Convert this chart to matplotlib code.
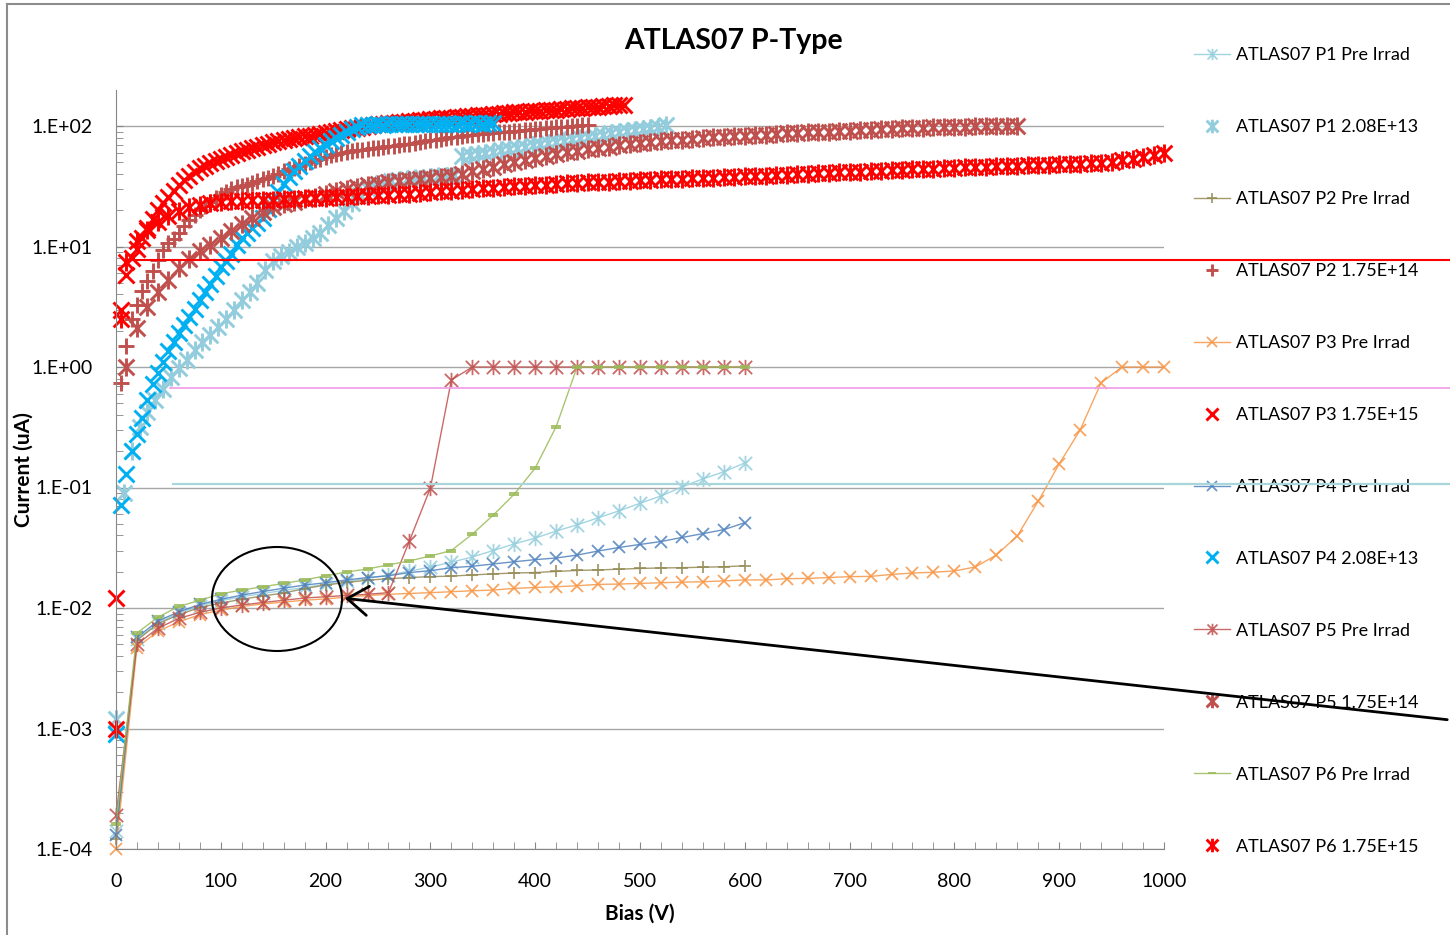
import numpy as np
import matplotlib
matplotlib.use("Agg")
import matplotlib.pyplot as plt
from matplotlib.path import Path
from matplotlib.lines import Line2D
from matplotlib.patches import Ellipse, FancyArrowPatch
from matplotlib.ticker import FixedLocator, MultipleLocator, LogLocator, FuncFormatter, NullFormatter

plt.rcParams["font.family"] = ["Lato", "DejaVu Sans"]

# ---- data (bias in V, current in uA) ----
# pre-irradiation sweeps, 20 V steps
bias_pre600 = np.arange(0, 601, 20)
bias_pre1000 = np.arange(0, 1001, 20)

p1_pre = [1.4e-4, 0.0055, 0.0075, 0.0091, 0.0104, 0.0115, 0.0124, 0.0132, 0.0140, 0.0148,
          0.0157, 0.0166, 0.0176, 0.0188, 0.0202, 0.0219, 0.024, 0.0265, 0.030, 0.034,
          0.038, 0.0435, 0.049, 0.056, 0.064, 0.074, 0.085, 0.101, 0.118, 0.135, 0.16]
p2_pre = [1.2e-4, 0.0054, 0.0074, 0.0088, 0.0101, 0.0110, 0.0118, 0.0126, 0.0133, 0.0145,
          0.0155, 0.0163, 0.0170, 0.0175, 0.0179, 0.0182, 0.0184, 0.0188, 0.0192, 0.0195,
          0.0197, 0.0201, 0.0205, 0.0207, 0.0210, 0.0213, 0.0215, 0.0216, 0.0218, 0.0220, 0.0224]
p3_pre = [1.0e-4, 0.0047, 0.0064, 0.0077, 0.0088, 0.0096, 0.0103, 0.0108, 0.0112, 0.0116,
          0.0119, 0.0123, 0.0127, 0.0130, 0.0132, 0.0134, 0.01365, 0.0139, 0.0141, 0.01455,
          0.0148, 0.0150, 0.0153, 0.0157, 0.0158, 0.0160, 0.0162, 0.0164, 0.0165, 0.0168,
          0.0171, 0.0171, 0.0175, 0.0176, 0.0179, 0.0182, 0.0183, 0.0190, 0.0195, 0.0198,
          0.0203, 0.0219, 0.0275, 0.0396, 0.077, 0.157, 0.30, 0.74, 1.0, 1.0, 1.0]
p4_pre = [1.3e-4, 0.0057, 0.0078, 0.0093, 0.0107, 0.0118, 0.0128, 0.0137, 0.0146, 0.0155,
          0.0162, 0.0171, 0.0179, 0.0185, 0.0197, 0.0204, 0.0216, 0.0222, 0.0232, 0.0242,
          0.0252, 0.0260, 0.0275, 0.0297, 0.0318, 0.0337, 0.0356, 0.0385, 0.0414, 0.0447, 0.051]
p5_pre = [1.9e-4, 0.0050, 0.0068, 0.0082, 0.0092, 0.0100, 0.0106, 0.0111, 0.0116, 0.0121,
          0.0124, 0.0127, 0.0130, 0.0134, 0.036, 0.099, 0.78, 1.0, 1.0, 1.0,
          1.0, 1.0, 1.0, 1.0, 1.0, 1.0, 1.0, 1.0, 1.0, 1.0, 1.0]
p6_pre = [1.6e-4, 0.0062, 0.0084, 0.0103, 0.0116, 0.0131, 0.0141, 0.0150, 0.0160, 0.0171,
          0.0185, 0.0199, 0.0211, 0.0228, 0.0246, 0.0270, 0.030, 0.041, 0.059, 0.088,
          0.145, 0.32, 1.0, 1.0, 1.0, 1.0, 1.0, 1.0, 1.0, 1.0, 1.0]

# irradiated sweeps
bias_p1_irr = np.arange(0, 526, 7.5)
p1_irr = [0.0012, 0.09, 0.2, 0.32, 0.42, 0.53, 0.66, 0.82, 0.98, 1.15,
          1.38, 1.6, 1.85, 2.15, 2.5, 3.0, 3.6, 4.2, 5.0, 6.4,
          7.6, 8.3, 9.0, 9.9, 10.7, 11.8, 12.9, 15, 17.4, 19.8,
          23, 27, 30, 32, 33.5, 35, 35.8, 36.3, 36.8, 37.3,
          37.8, 38.2, 38.6, 39,
          56, 57.3, 58.6, 60, 61.4, 62.8, 64.3, 65.8, 67.3, 68.9,
          70.5, 72.2, 73.9, 75.6, 77.4, 79.2, 81, 83, 85, 87,
          89, 91, 93, 95, 97, 99, 101]

bias_p2_irr = np.arange(5, 451, 5)
p2_irr = [0.73, 1.5, 2.5, 3.3, 4.3, 5.2, 6.3, 7.8, 9.3, 10.6,
          11.6, 13, 14.8, 16.6, 18.4, 20, 21.8, 23.5, 25.4, 27,
          28.5, 30, 31, 31.8, 32.6, 33.6, 34.8, 36, 37.3, 38.8,
          40.3, 42, 43.6, 45.2, 46.8, 48.4, 50, 51.8, 53.5, 55.3,
          57, 58.6, 60, 61.2, 62.2, 63, 63.8, 64.5, 65.2, 66,
          66.8, 67.6, 68.5, 69.5, 70.5, 71.5, 72.6, 73.7, 74.8, 76,
          77.2, 78.4, 79.6, 80.7, 81.8, 82.8, 83.6, 84.4, 85.2, 86,
          86.8, 87.6, 88.4, 89.2, 90, 90.8, 91.6, 92.4, 93.2, 94,
          94.8, 95.6, 96.4, 97.2, 98, 98.8, 99.6, 100.4, 101.2, 102]

bias_p3_irr = np.arange(0, 486, 5)
p3_irr = [0.0122,
          3.0, 5.8, 8.0, 9.5, 11.8, 14.2, 17, 20, 22.8, 25.8,
          29, 32.5, 35.5, 38.5, 41.5, 44.5, 46.8, 49.2, 51.2, 53.3,
          55.4, 57.6, 59.8, 61.8, 63.6, 65.5, 67.5, 69.2, 71, 73,
          74.6, 76.2, 77.8, 79.2, 80.6, 82, 83.3, 84.6, 86, 87.6,
          89.2, 90.8, 92.4, 94, 95.4, 96.8, 98.3, 100, 101.7, 103,
          104.2, 105.4, 106.5, 107.5, 108.5, 109.5, 110.5, 111.5, 112.5, 113.5,
          114.5, 115.5, 116.5, 117.5, 118.5, 119.5, 120.5, 121.5, 122.5, 123.5,
          124.5, 125.5, 126.5, 127.5, 128.5, 129.5, 130.5, 131.5, 132.4, 133.3,
          134.2, 135.1, 136, 137, 138, 139, 140, 141, 142, 143,
          144, 145, 146, 147, 148, 149, 150]

bias_p4_irr = np.arange(0, 361, 5)
p4_irr = [0.0009, 0.072, 0.13, 0.2, 0.28, 0.38, 0.53, 0.72, 0.9, 1.1,
          1.35, 1.6, 1.9, 2.25, 2.6, 3.05, 3.6, 4.2, 4.9, 5.7,
          6.7, 7.6, 8.7, 10.2, 11.7, 13, 14.3, 15.6, 17.3, 20.5,
          24, 28.5, 33, 37.5, 42, 47, 51.5, 56, 61, 65.5,
          70, 75, 80, 85, 89.5, 94, 98, 101,
          102, 102.5, 103, 102.5, 103, 103.5, 103, 103.5, 104, 103.5,
          104, 104, 103.5, 104, 104, 104.5, 104, 104.5, 105, 104.5,
          105, 105, 104.5, 105, 105]

bias_p5_irr = np.arange(10, 861, 10)
p5_irr = [1.0, 2.1, 3.15, 4.2, 5.3, 6.6, 7.9, 9.2, 10.3, 11.7,
          13.5, 15.5, 17.4, 19.5, 21.2, 22.6, 23.6, 24.7, 25.7, 27.3,
          28.8, 30.2, 31.3, 32.2, 33, 34, 34.8, 35.6, 36.4, 37.2,
          38, 38.8, 40, 42, 44, 46, 48, 50.5, 52.5, 54.5,
          56.5, 58.5, 60.5, 62.5, 64.3, 66, 67.5, 69, 70.5, 72,
          73.3, 74.6, 75.8, 77, 78.2, 79.3, 80.3, 81.3, 82.3, 83.2,
          84.1, 85, 85.9, 86.8, 87.6, 88.4, 89.2, 90, 90.8, 91.6,
          92.4, 93.2, 94, 94.8, 95.5, 96.2, 96.9, 97.5, 98, 98.5,
          99, 99.4, 99.7, 100, 100.2, 100.5]

bias_p6_irr = np.concatenate([[0, 5], np.arange(10, 1001, 10)])
p6_irr = [0.001, 2.5,
          7.5, 11.2, 13.8, 16, 18, 19.6, 21.2, 22.3, 23, 23.4,
          23.7, 23.9, 24.1, 24.3, 24.5, 24.7, 24.9, 25.1, 25.3, 25.5,
          25.7, 25.9, 26.1, 26.3, 26.5, 26.8, 27.1, 27.5, 27.9, 28.3,
          28.7, 29.1, 29.5, 29.9, 30.3, 30.7, 31.1, 31.5, 31.9, 32.3,
          32.6, 33, 33.4, 33.7, 34, 34.3, 34.6, 34.9, 35.2, 35.5,
          35.8, 36.1, 36.3, 36.6, 36.9, 37.1, 37.3, 37.6, 37.9, 38.2,
          38.5, 38.8, 39.1, 39.4, 39.8, 40.1, 40.5, 40.8, 41.2, 41.5,
          41.9, 42.2, 42.6, 42.9, 43.3, 43.6, 44, 44.3, 44.6, 45,
          45.3, 45.6, 45.9, 46.2, 46.5, 46.8, 47.1, 47.4, 47.7, 48,
          48.4, 48.8, 49.2, 49.6, 50.5, 51.8, 53.2, 55, 57.5, 60]

# ---- markers ----
# Excel style asterisk: an X with a vertical bar through it
star = Path([(-1, -1), (1, 1), (-1, 1), (1, -1), (0, -1.15), (0, 1.15)],
            [Path.MOVETO, Path.LINETO] * 3)
dash = Path([(-1, -0.4), (1, -0.4), (1, 0.4), (-1, 0.4), (-1, -0.4)],
            [Path.MOVETO, Path.LINETO, Path.LINETO, Path.LINETO, Path.CLOSEPOLY])

LBLUE = "#93CDDD"
OLIVE = "#948A54"
BROWN = "#C0504D"
ORANGE = "#F79646"
RED = "#FF0000"
BLUE = "#4F81BD"
CYAN = "#00B0F0"
GREEN = "#9BBB59"

W, H = 1450, 935
fig = plt.figure(figsize=(W / 100, H / 100), dpi=100)
ax = fig.add_axes([116 / W, 1 - 849 / H, (1164 - 116) / W, (849 - 90) / H])

pre = dict(lw=1.0, alpha=0.85, ms=9, mew=1.3, mfc="none", clip_on=False)
irr = dict(ls="none", ms=11, mew=2.1, mfc="none", clip_on=False)
pre_st = dict(pre, ms=11)
irr_st = dict(irr, ms=13)

handles = []
handles += ax.plot(bias_pre600, p1_pre, color=LBLUE, marker=star, label="ATLAS07 P1 Pre Irrad", **pre_st)
handles += ax.plot(bias_p1_irr, p1_irr, color=LBLUE, marker=star, label="ATLAS07 P1 2.08E+13", **irr_st)
handles += ax.plot(bias_pre600, p2_pre, color=OLIVE, marker="+", label="ATLAS07 P2 Pre Irrad", **pre)
handles += ax.plot(bias_p2_irr, p2_irr, color=BROWN, marker="+", label="ATLAS07 P2 1.75E+14", **irr)
handles += ax.plot(bias_pre1000, p3_pre, color=ORANGE, marker="x", label="ATLAS07 P3 Pre Irrad", **pre)
handles += ax.plot(bias_p3_irr, p3_irr, color=RED, marker="x", label="ATLAS07 P3 1.75E+15", **irr)
handles += ax.plot(bias_pre600, p4_pre, color=BLUE, marker="x", label="ATLAS07 P4 Pre Irrad", **pre)
handles += ax.plot(bias_p4_irr, p4_irr, color=CYAN, marker="x", label="ATLAS07 P4 2.08E+13", **irr)
handles += ax.plot(bias_pre600, p5_pre, color=BROWN, marker=star, label="ATLAS07 P5 Pre Irrad", **pre_st)
handles += ax.plot(bias_p5_irr, p5_irr, color=BROWN, marker=star, label="ATLAS07 P5 1.75E+14", **irr_st)
p6 = dict(pre, mfc=GREEN, ms=7, mew=0)
handles += ax.plot(bias_pre600, p6_pre, color=GREEN, marker=dash, label="ATLAS07 P6 Pre Irrad", **p6)
handles += ax.plot(bias_p6_irr, p6_irr, color=RED, marker=star, label="ATLAS07 P6 1.75E+15", **irr_st)

# ---- axes ----
ax.set_yscale("log")
ax.set_xlim(0, 1000)
ax.set_ylim(1e-4, 10 ** (2 + 36 / 120.5))
ax.yaxis.set_major_locator(FixedLocator([1e-4, 1e-3, 1e-2, 1e-1, 1, 10, 100]))
ax.yaxis.set_major_formatter(FuncFormatter(lambda v, p: "1.E%+03d" % round(np.log10(v))))
ax.yaxis.set_minor_locator(LogLocator(base=10, subs=range(2, 10), numticks=20))
ax.yaxis.set_minor_formatter(NullFormatter())
ax.xaxis.set_major_locator(MultipleLocator(100))
ax.xaxis.set_minor_locator(MultipleLocator(20))
ax.grid(axis="y", which="major", color="#A6A6A6", lw=1.0)
ax.set_axisbelow(True)
for s in ("top", "right"):
    ax.spines[s].set_visible(False)
for s in ("left", "bottom"):
    ax.spines[s].set_color("#868686")
ax.tick_params(which="both", direction="in", color="#868686", labelsize=14)
ax.tick_params(axis="y", which="major", length=5, pad=17)
ax.tick_params(axis="y", which="minor", length=5)
ax.tick_params(axis="x", which="both", length=5, pad=17)
ax.set_xlabel("Bias (V)", fontsize=15, fontweight="bold", labelpad=10)
ax.set_ylabel("Current (uA)", fontsize=15, fontweight="bold")
ax.yaxis.set_label_coords((34 - 116) / 1048, (849 - 470) / 759)

fig.text(733 / W, 1 - 41 / H, "ATLAS07 P-Type", fontsize=20.5, fontweight="bold",
         ha="center", va="center")

leg = ax.legend(handles=handles, loc="upper left", bbox_to_anchor=(1194 / W, 1 - 47 / H),
                bbox_transform=fig.transFigure, frameon=False, fontsize=13,
                handlelength=2.0, handletextpad=0.3, labelspacing=3.1, markerscale=0.75,
                borderaxespad=0, borderpad=0)

# ---- drawn annotations on top of the chart ----
def fx(x):
    return x / W

def fy(y):
    return 1 - y / H

for x0, y0, col, lw in [(133, 260, "#FF0000", 1.5), (170, 388, "#F0A2E8", 1.3), (173, 484, "#A9D6DB", 1.6)]:
    fig.add_artist(Line2D([fx(x0), fx(W)], [fy(y0), fy(y0)], color=col, lw=lw,
                          transform=fig.transFigure, zorder=10))

fig.add_artist(Ellipse((fx(277), fy(599)), 130 / W, 104 / H, transform=fig.transFigure,
                       fill=False, ec="black", lw=1.5, zorder=10))
fig.add_artist(FancyArrowPatch((fx(W), fy(720)), (fx(342), fy(598)), transform=fig.transFigure,
                               arrowstyle="->,head_length=0.5,head_width=0.35", mutation_scale=30,
                               color="black", lw=2, zorder=11))

# figure frame (left and top edges visible)
fig.add_artist(Line2D([fx(7), fx(7)], [fy(4), 0], color="#8C8C8C", lw=1.5, transform=fig.transFigure))
fig.add_artist(Line2D([fx(7), 1], [fy(4), fy(4)], color="#8C8C8C", lw=1.5, transform=fig.transFigure))

fig.savefig("out.png", dpi=100)
